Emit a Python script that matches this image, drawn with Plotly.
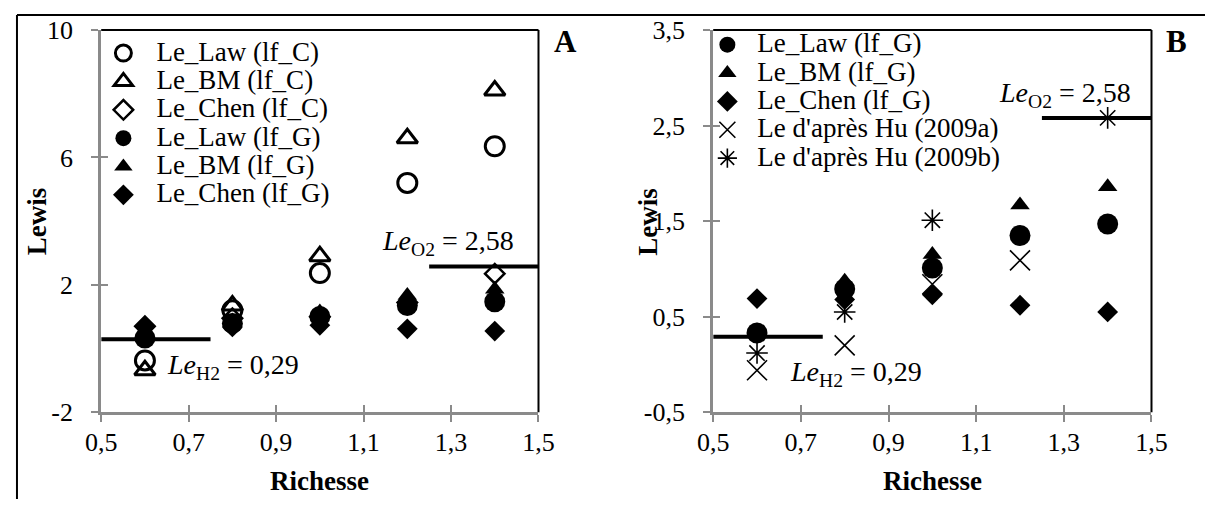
import plotly.graph_objects as go

# Equivalence ratio (richesse) at which the Lewis numbers were evaluated
richesse = [0.6, 0.8, 1.0, 1.2, 1.4]

# Lewis numbers, lf_C formulation
le_law_c = [-0.37, 1.2, 2.37, 5.2, 6.35]
le_bm_c = [-0.68, 1.35, 2.9, 6.6, 8.1]
le_chen_c = [0.7, 0.95, 1.0, 1.45, 2.35]

# Lewis numbers, lf_G formulation
le_law_g = [0.33, 0.79, 1.01, 1.35, 1.47]
le_bm_g = [0.35, 0.87, 1.15, 1.67, 1.86]
le_chen_g = [0.69, 0.68, 0.73, 0.62, 0.55]

# Values derived from Hu (2009)
le_hu_a = [-0.06, 0.2, 0.84, 1.09, None]
le_hu_b = [0.12, 0.55, 1.51, None, 2.58]

# Pure-species Lewis numbers and the richness span of each marker line
le_h2 = 0.29
le_o2 = 2.58
h2_span = [0.5, 0.75]
o2_span = [1.25, 1.5]

# Axis ticks
x_tickvals = [0.5, 0.7, 0.9, 1.1, 1.3, 1.5]
x_ticktext = ["0,5", "0,7", "0,9", "1,1", "1,3", "1,5"]
ya_tickvals = [-2, 2, 6, 10]
ya_ticktext = ["-2", "2", "6", "10"]
yb_tickvals = [-0.5, 0.5, 1.5, 2.5, 3.5]
yb_ticktext = ["-0,5", "0,5", "1,5", "2,5", "3,5"]

FONT = "Liberation Serif, Times New Roman, serif"
W, H = 1221, 514
AXIS_GREY = "#8a8a8a"

# Layout positions below are given on a framed canvas; these constants
# convert them to page pixels (inset and scale of the frame).
INSET_X, SCALE_X = 15.5, 0.9738
INSET_Y, SCALE_Y = 13.0, 0.9475


def px_x(p):
    return max(0.0, (p - INSET_X) / SCALE_X) / W


def px_y(p):
    return 1 - max(0.0, (p - INSET_Y) / SCALE_Y) / H


def legend_label(text):
    return '<span style="font-size:27px">' + text + "</span>"


fig = go.Figure()

# Reference lines for H2 and O2 (both panels)
for xa, ya in (("x", "y"), ("x2", "y2")):
    fig.add_trace(go.Scatter(x=h2_span, y=[le_h2, le_h2], mode="lines",
                             line=dict(color="black", width=4),
                             showlegend=False, hoverinfo="skip",
                             xaxis=xa, yaxis=ya))
    fig.add_trace(go.Scatter(x=o2_span, y=[le_o2, le_o2], mode="lines",
                             line=dict(color="black", width=4),
                             showlegend=False, hoverinfo="skip",
                             xaxis=xa, yaxis=ya))


def marker_trace(values, name, symbol, size, lw, xa, ya, legend):
    return go.Scatter(
        x=richesse, y=values, mode="markers", name=legend_label(name),
        marker=dict(symbol=symbol, size=size, color="black",
                    line=dict(color="black", width=lw)),
        xaxis=xa, yaxis=ya, legend=legend, cliponaxis=False)


# Panel A
fig.add_trace(marker_trace(le_law_c, "Le_Law (lf_C)", "circle-open", 19, 3, "x", "y", "legend"))
fig.add_trace(marker_trace(le_bm_c, "Le_BM (lf_C)", "triangle-up-open", 18, 3, "x", "y", "legend"))
fig.add_trace(marker_trace(le_chen_c, "Le_Chen (lf_C)", "diamond-open", 15, 2.5, "x", "y", "legend"))
fig.add_trace(marker_trace(le_law_g, "Le_Law (lf_G)", "circle", 21, 0, "x", "y", "legend"))
fig.add_trace(marker_trace(le_bm_g, "Le_BM (lf_G)", "triangle-up", 17, 0, "x", "y", "legend"))
fig.add_trace(marker_trace(le_chen_g, "Le_Chen (lf_G)", "diamond", 16, 0, "x", "y", "legend"))

# Panel B
fig.add_trace(marker_trace(le_law_g, "Le_Law (lf_G)", "circle", 21, 0, "x2", "y2", "legend2"))
fig.add_trace(marker_trace(le_bm_g, "Le_BM (lf_G)", "triangle-up", 17, 0, "x2", "y2", "legend2"))
fig.add_trace(marker_trace(le_chen_g, "Le_Chen (lf_G)", "diamond", 16, 0, "x2", "y2", "legend2"))
fig.add_trace(marker_trace(le_hu_a, "Le d'après Hu (2009a)", "x-thin-open", 20, 1.6, "x2", "y2", "legend2"))
fig.add_trace(marker_trace(le_hu_b, "Le d'après Hu (2009b)", "asterisk-open", 18, 1.6, "x2", "y2", "legend2"))

# Empty traces on the overlay axes carrying the inward half of the tick marks
for xa, ya in (("x3", "y"), ("x", "y3"), ("x4", "y2"), ("x2", "y4")):
    fig.add_trace(go.Scatter(x=[None], y=[None], showlegend=False,
                             hoverinfo="skip", xaxis=xa, yaxis=ya))

dom_a = [px_x(100.7), px_x(538)]
dom_b = [px_x(712.7), px_x(1151)]
dom_y = [px_y(413), px_y(29)]

tickfont = dict(family=FONT, size=26, color="black")


def x_axis(domain, anchor):
    return dict(domain=domain, anchor=anchor, range=[0.5, 1.5],
                tickvals=x_tickvals, ticktext=x_ticktext, tickfont=tickfont,
                ticks="outside", ticklen=7, tickwidth=2, tickcolor=AXIS_GREY,
                showline=True, linecolor=AXIS_GREY, linewidth=3,
                showgrid=False, zeroline=False, ticklabelstandoff=-3)


def y_axis(domain, anchor, rng, vals, text):
    return dict(domain=domain, anchor=anchor, range=rng,
                tickvals=vals, ticktext=text, tickfont=tickfont,
                ticks="outside", ticklen=7, tickwidth=2, tickcolor=AXIS_GREY,
                showline=True, linecolor=AXIS_GREY, linewidth=3,
                showgrid=False, zeroline=False, ticklabelstandoff=13)


def inner_x(over, anchor, domain):
    return dict(overlaying=over, anchor=anchor, domain=domain, range=[0.5, 1.5],
                tickvals=x_tickvals, ticks="inside", ticklen=7, tickwidth=2,
                tickcolor=AXIS_GREY, showticklabels=False, showline=False,
                showgrid=False, zeroline=False)


def inner_y(over, anchor, domain, rng, vals):
    return dict(overlaying=over, anchor=anchor, domain=domain, range=rng,
                tickvals=vals, ticks="inside", ticklen=7, tickwidth=2,
                tickcolor=AXIS_GREY, showticklabels=False, showline=False,
                showgrid=False, zeroline=False)


shapes = []
# Top and right frame of each plot area
for xr, yr in (("x domain", "y domain"), ("x2 domain", "y2 domain")):
    shapes.append(dict(type="line", xref=xr, yref=yr, x0=0, x1=1, y0=1, y1=1,
                       line=dict(color="black", width=2), layer="below"))
    shapes.append(dict(type="line", xref=xr, yref=yr, x0=1, x1=1, y0=0, y1=1,
                       line=dict(color="black", width=2), layer="below"))
# Outer figure frame (top and left edges)
shapes.append(dict(type="line", xref="paper", yref="paper",
                   x0=1.0 / W, x1=1, y0=1 - 1.0 / H, y1=1 - 1.0 / H,
                   line=dict(color="black", width=2)))
shapes.append(dict(type="line", xref="paper", yref="paper",
                   x0=1.0 / W, x1=1.0 / W, y0=0, y1=1 - 1.0 / H,
                   line=dict(color="black", width=2)))

ann_font = dict(family=FONT, size=28, color="black")
title_font = dict(family=FONT, size=27, color="black")
le_o2_text = "<i>Le</i><sub>O2</sub> = 2,58"
le_h2_text = "<i>Le</i><sub>H2</sub> = 0,29"


def label(text, x, y, xanchor="center", font=ann_font, angle=0):
    return dict(text=text, x=px_x(x), y=px_y(y), xref="paper", yref="paper",
                xanchor=xanchor, yanchor="middle", showarrow=False,
                textangle=angle, font=font)


annotations = [
    label("<b>A</b>", 565, 41, font=dict(family=FONT, size=31, color="black")),
    label("<b>B</b>", 1176, 41, font=dict(family=FONT, size=31, color="black")),
    label(le_o2_text, 380, 242, xanchor="left"),
    label(le_h2_text, 165, 367, xanchor="left"),
    label(le_o2_text, 997, 93.5, xanchor="left"),
    label(le_h2_text, 788, 373.5, xanchor="left"),
    label("<b>Richesse</b>", 319.5, 482, font=title_font),
    label("<b>Richesse</b>", 932, 482, font=title_font),
    label("<b>Lewis</b>", 36.7, 221, font=title_font, angle=-90),
    label("<b>Lewis</b>", 648, 221, font=title_font, angle=-90),
]

legend_common = dict(xanchor="left", yanchor="top", bgcolor="rgba(0,0,0,0)",
                     borderwidth=0, tracegroupgap=0,
                     font=dict(family=FONT, size=19.5, color="black"))

fig.update_layout(
    width=W, height=H,
    margin=dict(l=0, r=0, t=0, b=0),
    paper_bgcolor="white", plot_bgcolor="white",
    font=dict(family=FONT, color="black"),
    xaxis=x_axis(dom_a, "y"),
    yaxis=y_axis(dom_y, "x", [-2, 10], ya_tickvals, ya_ticktext),
    xaxis2=x_axis(dom_b, "y2"),
    yaxis2=y_axis(dom_y, "x2", [-0.5, 3.5], yb_tickvals, yb_ticktext),
    xaxis3=inner_x("x", "y", dom_a),
    yaxis3=inner_y("y", "x", dom_y, [-2, 10], ya_tickvals),
    xaxis4=inner_x("x2", "y2", dom_b),
    yaxis4=inner_y("y2", "x2", dom_y, [-0.5, 3.5], yb_tickvals),
    legend=dict(x=76.4 / W, y=1 - 21.1 / H, itemwidth=56, **legend_common),
    legend2=dict(x=699.7 / W, y=1 - 12.2 / H, itemwidth=50, **legend_common),
    shapes=shapes,
    annotations=annotations,
)

fig.write_html("out.html")
